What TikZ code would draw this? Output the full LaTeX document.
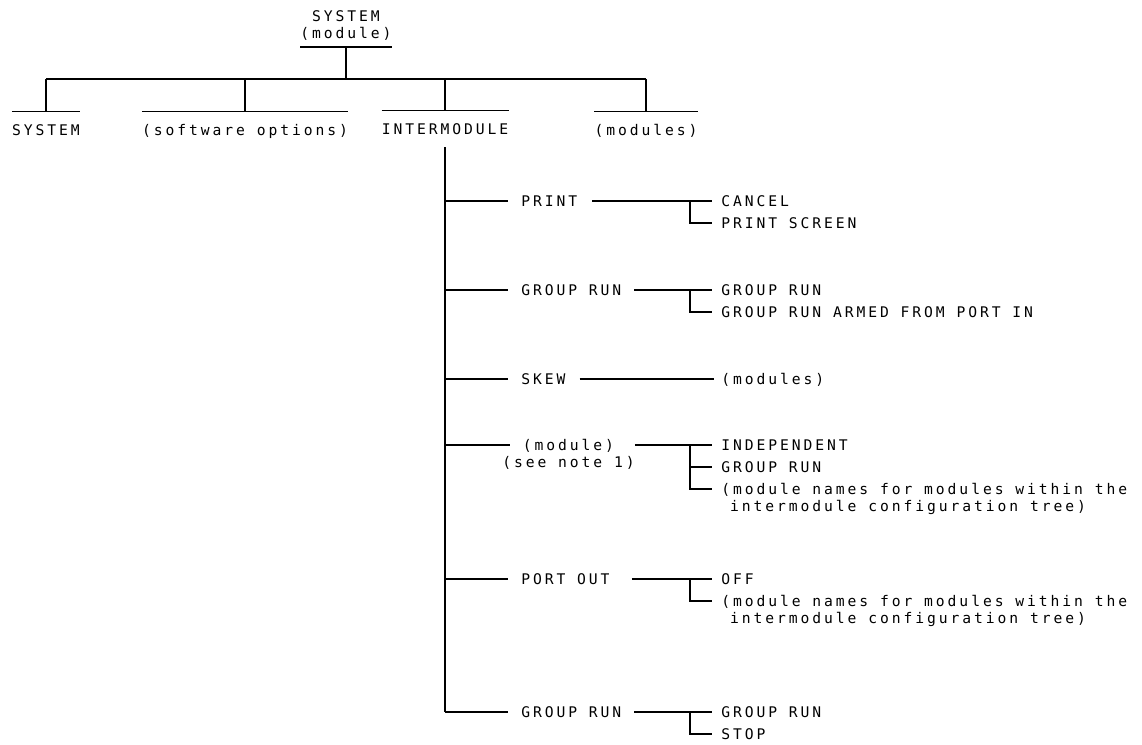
\documentclass[tikz,border=0pt]{standalone}
\usepackage{fontspec}
\newfontfamily\plotfont[LetterSpace=20]{DejaVu Sans Mono}
\usetikzlibrary{calc}

\begin{document}
\begin{tikzpicture}[
        x=0.75pt, y=-0.75pt,
        txt/.style={font=\fontsize{11}{12.5}\plotfont, inner sep=0pt},
        rootbox/.style={txt, align=center, anchor=south, inner ysep=5pt},
        catbox/.style={txt, text height=8pt, text depth=0pt, inner ysep=9.5pt},
        itembox/.style={txt, text height=8pt, text depth=0pt, anchor=west},
        leafbox/.style={txt, text height=8pt, text depth=0pt, anchor=west, align=left},
        link/.style={draw=black, line width=0.8pt},
        branch/.style={link, shorten >=9.5pt},
        twig/.style={link, shorten >=6.75pt}
    ]
        \useasboundingbox (0,0) rectangle (1142,744);

        % Top level
        \node[rootbox] (root) at (346,47) {SYSTEM\\(module)};
        \node[catbox] (sys)   at (46,130)  {SYSTEM};
        \node[catbox] (soft)  at (245,130) {(software options)};
        \node[catbox] (inter) at (445,129) {INTERMODULE};
        \node[catbox] (mods)  at (646,130) {(modules)};
        \coordinate (rail) at (0,79);
        \coordinate (brk) at (690,0);

        % Intermodule entries (two-line nodes sit on their last line)
        \node[itembox] (print) at (521,201) {PRINT};
        \node[itembox] (grun)  at (521,290) {GROUP RUN};
        \node[itembox] (skew)  at (521,379) {SKEW};
        \node[itembox, align=center] (mod) at (502,461.67) {(module)\\(see note 1)};
        \node[itembox] (port)  at (521,579) {PORT OUT};
        \node[itembox] (grunb) at (521,712) {GROUP RUN};
        \coordinate (modtop) at ([yshift=12.5pt]mod.west);

        % Choices
        \node[leafbox] (cancel)  at (721,201) {CANCEL};
        \node[leafbox] (pscreen) at (721,223) {PRINT SCREEN};
        \node[leafbox] (grunon)  at (721,290) {GROUP RUN};
        \node[leafbox] (armed)   at (721,312) {GROUP RUN ARMED FROM PORT IN};
        \node[leafbox] (skewmod) at (721,379) {(modules)};
        \node[leafbox] (indep)   at (721,445) {INDEPENDENT};
        \node[leafbox] (modgrun) at (721,467) {GROUP RUN};
        \node[leafbox] (modname) at (721,505.67) {(module names for modules within the\\\hphantom{(}intermodule configuration tree)};
        \node[leafbox] (off)     at (721,579) {OFF};
        \node[leafbox] (portname) at (721,617.67) {(module names for modules within the\\\hphantom{(}intermodule configuration tree)};
        \node[leafbox] (grunrun) at (721,712) {GROUP RUN};
        \node[leafbox] (stop)    at (721,734) {STOP};

        % Bars over and under the headings
        \draw[link] (root.south west) -- (root.south east);
        \foreach \n in {sys,soft,inter,mods}
            \draw[link] (\n.north west) -- (\n.north east);

        % Top tree
        \draw[link] (root.south) -- (root.south |- rail);
        \draw[link] (sys.north |- rail) -- (mods.north |- rail);
        \foreach \n in {sys,soft,inter,mods}
            \draw[link] (\n.north |- rail) -- (\n.north);

        % Intermodule spine
        \draw[link] (inter.south) -- (inter.south |- grunb.west);
        \foreach \n in {print,grun,skew,port,grunb}
            \draw[branch] (inter.south |- \n.west) -- (\n.west);
        \draw[link, shorten >=-6pt] (inter.south |- modtop) -- (modtop);

        % Choice brackets
        \draw[twig, shorten <=11pt] (print) -- (cancel);
        \draw[twig] (print.east -| brk) |- (pscreen.west);
        \draw[twig, shorten <=9.4pt] (grun) -- (grunon);
        \draw[twig] (grun.east -| brk) |- (armed.west);
        \draw[link, shorten <=10.5pt, shorten >=5.25pt] (skew) -- (skewmod);
        \draw[twig] (modtop -| mod.east) -- (modtop -| indep.west);
        \draw[twig] (modtop -| brk) |- (modgrun.west);
        \draw[twig] (modtop -| brk) |- ([yshift=12.5pt]modname.west);
        \draw[twig, shorten <=16.5pt] (port) -- (off);
        \draw[twig] (port.east -| brk) |- ([yshift=12.5pt]portname.west);
        \draw[twig, shorten <=9.4pt] (grunb) -- (grunrun);
        \draw[twig] (grunb.east -| brk) |- (stop.west);
\end{tikzpicture}
\end{document}
